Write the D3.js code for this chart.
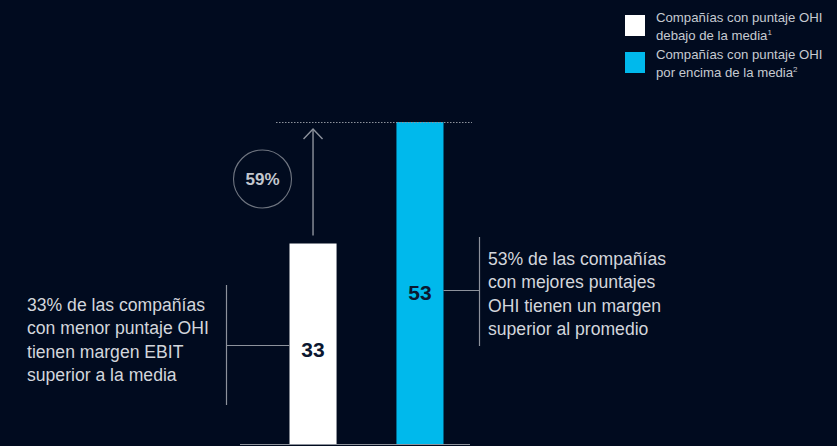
<!DOCTYPE html>
<html>
<head>
<meta charset="utf-8">
<script src="https://cdn.jsdelivr.net/npm/d3@7"></script>
<style>
  html, body { margin: 0; padding: 0; background: #010b1f; }
  svg { display: block; font-family: "Liberation Sans", Arial, Helvetica, sans-serif; }
</style>
</head>
<body>
<svg id="chart" width="837" height="446"></svg>
<script>
// Share of companies with above-average EBIT margin, by OHI score group
const categories = ["debajo", "encima"];
const values = [33, 53];
const barColors = ["#ffffff", "#00b9ec"];
const legendLines = [
  ["Compañías con puntaje OHI", "debajo de la media", "1"],
  ["Compañías con puntaje OHI", "por encima de la media", "2"]
];
const upliftLabel = "59%";
const leftNote = ["33% de las compañías", "con menor puntaje OHI", "tienen margen EBIT", "superior a la media"];
const rightNote = ["53% de las compañías", "con mejores puntajes", "OHI tienen un margen", "superior al promedio"];

const svg = d3.select("#chart");
const textColor = "#d3d6dc";
const lineColor = "#8d929c";

const x = d3.scaleBand()
  .domain(categories)
  .range([251, 482])
  .paddingInner(0.56)
  .paddingOuter(0.36);

const y = d3.scaleLinear()
  .domain([0, d3.max(values)])
  .range([444, 122]);

// Baseline
svg.append("line")
  .attr("x1", 240).attr("x2", 470)
  .attr("y1", 444.5).attr("y2", 444.5)
  .attr("stroke", lineColor).attr("stroke-width", 1.2);

// Bars
svg.selectAll("rect.bar")
  .data(values)
  .join("rect")
  .attr("class", "bar")
  .attr("x", (d, i) => x(categories[i]))
  .attr("width", x.bandwidth())
  .attr("y", d => y(d))
  .attr("height", d => y(0) - y(d))
  .attr("fill", (d, i) => barColors[i]);

// Dotted reference at the higher bar's top
svg.append("line")
  .attr("x1", 276).attr("x2", 472)
  .attr("y1", y(values[1]) + 0.5).attr("y2", y(values[1]) + 0.5)
  .attr("stroke", lineColor).attr("stroke-width", 1)
  .attr("stroke-dasharray", "1.5,1.5");

// Arrow from the lower bar up to the reference
const ax = x(categories[0]) + x.bandwidth() / 2;
const tipY = y(values[1]) + 7;
svg.append("line")
  .attr("x1", ax).attr("x2", ax)
  .attr("y1", y(values[0]) - 8).attr("y2", tipY)
  .attr("stroke", lineColor).attr("stroke-width", 1.4);
svg.append("path")
  .attr("d", `M${ax - 9.5},${tipY + 10} L${ax},${tipY} L${ax + 9.5},${tipY + 10}`)
  .attr("fill", "none")
  .attr("stroke", lineColor).attr("stroke-width", 1.4);

// Uplift bubble
svg.append("circle")
  .attr("cx", 262.5).attr("cy", 179).attr("r", 29)
  .attr("fill", "none").attr("stroke", "#6f7580").attr("stroke-width", 1.1);
svg.append("text")
  .attr("x", 262.5).attr("y", 185)
  .attr("text-anchor", "middle")
  .attr("font-size", 17).attr("font-weight", "bold")
  .attr("fill", "#c3c7ce")
  .text(upliftLabel);

// Value labels inside bars
svg.selectAll("text.val")
  .data(values)
  .join("text")
  .attr("class", "val")
  .attr("x", (d, i) => x(categories[i]) + x.bandwidth() / 2)
  .attr("y", (d, i) => i === 0 ? 357 : 299.5)
  .attr("text-anchor", "middle")
  .attr("font-size", 21).attr("font-weight", "bold")
  .attr("fill", "#0b1730")
  .text(d => d);

// Left annotation bracket
svg.append("line").attr("x1", 226.5).attr("x2", 226.5).attr("y1", 285).attr("y2", 405)
  .attr("stroke", lineColor).attr("stroke-width", 1.2);
svg.append("line").attr("x1", 226.5).attr("x2", x(categories[0])).attr("y1", 345.5).attr("y2", 345.5)
  .attr("stroke", lineColor).attr("stroke-width", 1.2);

// Right annotation bracket
const rightEdge = x(categories[1]) + x.bandwidth();
svg.append("line").attr("x1", 479.5).attr("x2", 479.5).attr("y1", 237).attr("y2", 346)
  .attr("stroke", lineColor).attr("stroke-width", 1.2);
svg.append("line").attr("x1", rightEdge).attr("x2", 479.5).attr("y1", 290.5).attr("y2", 290.5)
  .attr("stroke", lineColor).attr("stroke-width", 1.2);

// Annotation texts
function block(lines, x0, y0) {
  svg.append("g").selectAll("text")
    .data(lines)
    .join("text")
    .attr("x", x0)
    .attr("y", (d, i) => y0 + i * 23.4)
    .attr("font-size", 17.6)
    .attr("fill", textColor)
    .text(d => d);
}
block(leftNote, 27, 311);
block(rightNote, 488, 265);

// Legend
const legend = svg.append("g");
legendLines.forEach((lines, i) => {
  const top = 15 + i * 37;
  legend.append("rect")
    .attr("x", 625).attr("y", top)
    .attr("width", 20).attr("height", 21)
    .attr("fill", barColors[i]);
  const t1 = legend.append("text")
    .attr("x", 656).attr("y", 22 + i * 36.5)
    .attr("font-size", 13.2).attr("fill", "#c6cad1")
    .text(lines[0]);
  const t2 = legend.append("text")
    .attr("x", 656).attr("y", 39.8 + i * 36.8)
    .attr("font-size", 13.2).attr("fill", "#c6cad1");
  t2.append("tspan").text(lines[1]);
  t2.append("tspan")
    .attr("font-size", 8).attr("dy", -5)
    .text(lines[2]);
});
</script>
</body>
</html>
